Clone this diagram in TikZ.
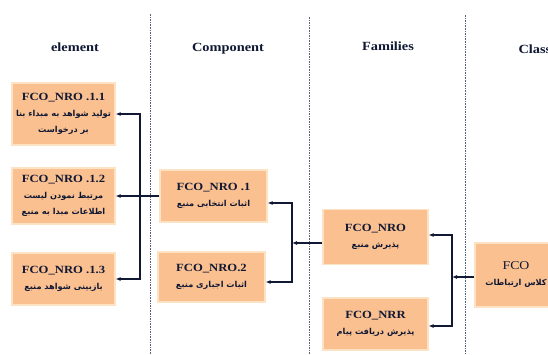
\documentclass[tikz,border=0pt]{standalone}
\usepackage{fontspec}
\setmainfont{Liberation Serif}
\newfontfamily\headfont[FakeStretch=1.15]{Liberation Serif}
\newfontfamily\farsifont[Script=Arabic]{DejaVu Sans}
\TeXXeTstate=1
\usetikzlibrary{arrows.meta}
\definecolor{boxfill}{RGB}{250,192,144}
\definecolor{boxedge}{RGB}{253,226,196}
\definecolor{inkblue}{RGB}{16,24,52}
\definecolor{sepline}{RGB}{90,100,130}
\newcommand{\fatext}[1]{{\farsifont\bfseries\fontsize{8.2}{16}\selectfont\beginR #1\endR}}
\newcommand{\boxtitle}[1]{{\headfont\bfseries\fontsize{11}{16}\selectfont #1}}
\begin{document}
\begin{tikzpicture}[x=1pt,y=-1pt,
    box/.style={draw=boxedge,line width=1.2pt,fill=boxfill,inner sep=2pt,align=center,
      text=inkblue,font=\fontsize{8}{16}\selectfont},
    link/.style={draw=inkblue,line width=1.1pt,-{Latex[length=5pt,width=4pt]}},
    sep/.style={draw=sepline,line width=0.6pt,dash pattern=on 1.6pt off 1pt},
    head/.style={text=inkblue,font=\headfont\bfseries\fontsize{12.5}{14}\selectfont}]
  \clip (0,0) rectangle (548,354);

  % Drawing column separators
  \draw[sep] (150,14) -- (150,354);
  \draw[sep] (309,17) -- (309,354);
  \draw[sep] (465,15) -- (465,354);

  % Column headings
  \node[head] (helement) at (75,47) {element};
  \node[head] (hcomponent) at (228,49) {Component};
  \node[head] (hfamilies) at (388,46) {Families};
  \node[head,anchor=west] (hclass) at (515,49) {Class};

  % Drawing element boxes
  \node[box,minimum width=103,minimum height=62] (e1) at (63.5,114)
    {\boxtitle{FCO\_NRO .1.1}\\ \fatext{تولید شواهد به مبداء بنا}\\ \fatext{بر درخواست}};
  \node[box,minimum width=103,minimum height=56] (e2) at (63.5,196)
    {\boxtitle{FCO\_NRO .1.2}\\ \fatext{مرتبط نمودن لیست}\\ \fatext{اطلاعات مبدا به منبع}};
  \node[box,minimum width=103,minimum height=52] (e3) at (63.5,279)
    {\boxtitle{FCO\_NRO .1.3}\\ \fatext{بازبینی شواهد منبع}};

  % Drawing component boxes
  \node[box,minimum width=107,minimum height=52] (c1) at (213.5,196)
    {\boxtitle{FCO\_NRO .1}\\ \fatext{اثبات انتخابی منبع}};
  \node[box,minimum width=107,minimum height=50] (c2) at (211.5,277)
    {\boxtitle{FCO\_NRO.2}\\ \fatext{اثبات اجباری منبع}};

  % Drawing family boxes
  \node[box,minimum width=105,minimum height=55] (f1) at (375.5,237)
    {\boxtitle{FCO\_NRO}\\ \fatext{پذیرش منبع}};
  \node[box,minimum width=105,minimum height=52] (f2) at (375.5,324)
    {\boxtitle{FCO\_NRR}\\ \fatext{پذیرش دریافت پیام}};

  % Drawing class box
  \node[box,minimum width=82,minimum height=64] (cls) at (516,275)
    {{\headfont\fontsize{12}{16}\selectfont FCO}\\ \fatext{کلاس ارتباطات}};

  % Links component -> elements
  \coordinate (eb) at (140,196);
  \draw[link] (c1.west) -- (c1.west -| e2.east);
  \draw[link] (eb) |- (e1.east);
  \draw[link] (eb) |- (e3.east);

  % Links family -> components
  \coordinate (cb) at (292,243);
  \draw[link] ([yshift=-6pt]f1.west) -- (cb);
  \draw[link] (cb) |- ([yshift=-7pt]c1.east);
  \draw[link] (cb) |- ([yshift=-5pt]c2.east);

  % Links class -> families
  \coordinate (fb) at (452,277);
  \draw[link] ([yshift=-2pt]cls.west) -- (fb);
  \draw[link] (fb) |- ([yshift=2pt]f1.east);
  \draw[link] (fb) |- ([yshift=-2pt]f2.east);
\end{tikzpicture}
\end{document}
